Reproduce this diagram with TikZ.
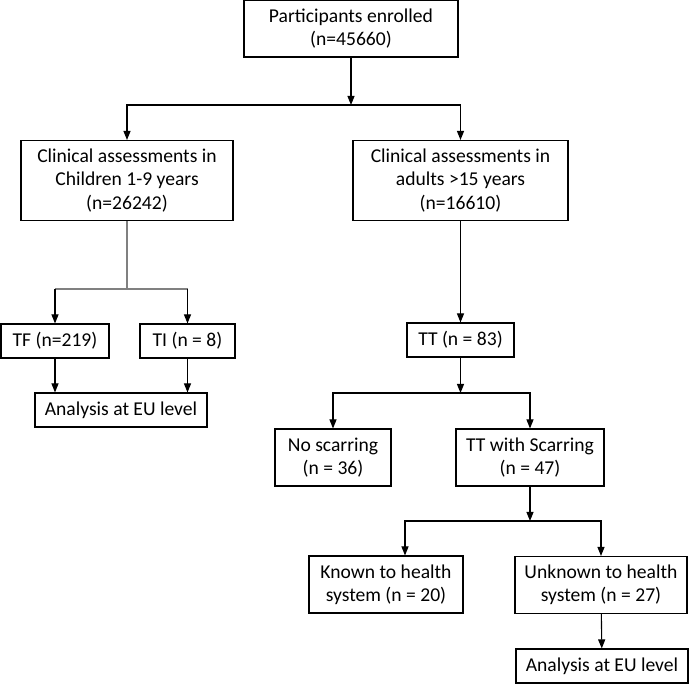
\documentclass[tikz,border=0pt]{standalone}
\usepackage{fontspec}
\setmainfont{Carlito}
\usepackage{tikz}
\usetikzlibrary{arrows.meta}

\begin{document}
\begin{tikzpicture}[->,>={Triangle[length=9pt,width=7pt]},line width=1.1pt,
                    x=1pt,y=-1pt,every text node part/.style={align=center}]
  \tikzstyle{box}=[draw=black,fill=none,text=black,inner sep=0pt,
                   font=\fontsize{19.6}{23.4}\selectfont]
  \useasboundingbox (0,0) rectangle (689,684);

  \node[box,minimum width=214pt,minimum height=57pt] (enrol) at (351,28.5) {Participants enrolled\\(n=45660)};
  \node[box,minimum width=212pt,minimum height=80pt] (child) at (127,180.5) {Clinical assessments in\\Children 1-9 years\\(n=26242)};
  \node[box,minimum width=215pt,minimum height=80pt] (adult) at (460.5,180.5) {Clinical assessments in\\adults >15 years\\(n=16610)};
  \node[box,minimum width=108pt,minimum height=34pt] (tf) at (55,341) {TF (n=219)};
  \node[box,minimum width=95pt,minimum height=34pt] (ti) at (187.5,341) {TI (n = 8)};
  \node[box,minimum width=172pt,minimum height=34pt] (euA) at (121,410) {Analysis at EU level};
  \node[box,minimum width=107pt,minimum height=34pt] (tt) at (460.5,340) {TT (n = 83)};
  \node[box,minimum width=116pt,minimum height=57pt] (noscar) at (333,457.5) {No scarring\\(n = 36)};
  \node[box,minimum width=148pt,minimum height=57pt] (scar) at (530,457.5) {TT with Scarring\\(n = 47)};
  \node[box,minimum width=154pt,minimum height=57pt] (known) at (386,584.5) {Known to health\\system (n = 20)};
  \node[box,minimum width=172pt,minimum height=57pt] (unknown) at (601,585) {Unknown to health\\system (n = 27)};
  \node[box,minimum width=172pt,minimum height=34pt] (euB) at (602,666) {Analysis at EU level};

  \coordinate (split1) at (351,105);
  \coordinate (split2) at (127,289);
  \coordinate (split3) at (460.5,393);
  \coordinate (split4) at (530,521);

  \draw (enrol) -- (split1);
  \draw (split1) -| (child);
  \draw (split1) -| (adult);

  \draw[-,gray] (child) -- (split2);
  \draw[-,gray] (tf |- split2) -- (ti |- split2);
  \draw (tf |- split2) -- (tf);
  \draw (ti |- split2) -- (ti);
  \draw (tf) -- (tf |- euA.north);
  \draw (ti) -- (ti |- euA.north);

  \draw (adult) -- (tt);
  \draw (tt) -- (split3);
  \draw (split3) -| (noscar);
  \draw (split3) -| (scar);

  \draw (scar) -- (split4);
  \draw (split4) -| ([xshift=19pt]known.north);
  \draw (split4) -| (unknown);
  \draw (unknown) -- (euB);
\end{tikzpicture}
\end{document}
